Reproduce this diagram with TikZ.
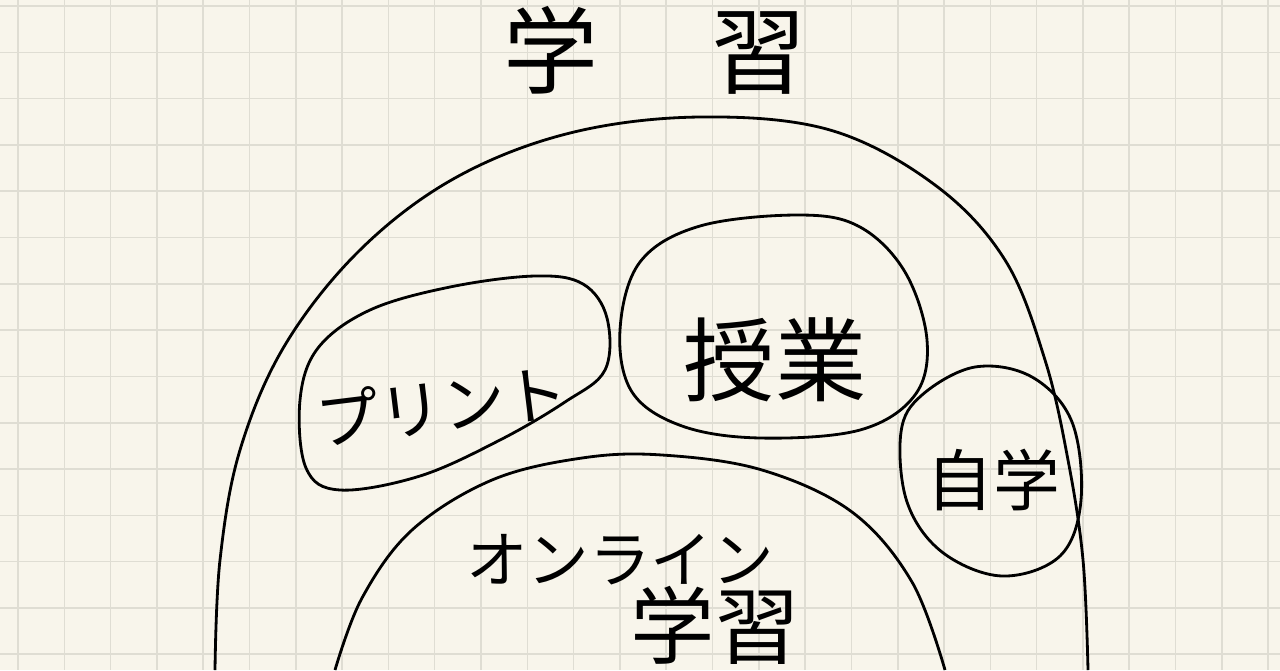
\documentclass[tikz,border=0pt]{standalone}
\usepackage{fontspec}
\newfontfamily\cjk{Noto Sans CJK JP}
\definecolor{papel}{HTML}{F8F5EB}
\definecolor{rejilla}{HTML}{DFDDD3}
\tikzset{
  trazo/.style={line width=1.6pt, black},
  texto/.style={font=\cjk, text=black, inner sep=0pt},
}

\begin{document}
\begin{tikzpicture}[x=0.02cm, y=-0.02cm]

	% Papel
	\fill[papel] (0,0) rectangle (1280,670);
	\useasboundingbox (0,0) rectangle (1280,670);
	\foreach \i in {0,...,27}
		\draw[rejilla, line width=0.9pt] ({18+46.3*\i},0) -- ({18+46.3*\i},670);
	\foreach \j in {0,...,14}
		\draw[rejilla, line width=0.9pt] (0,{6+46.3*\j}) -- (1280,{6+46.3*\j});

	% Aprendizaje
	\draw (655,50) node[texto, font=\cjk\fontsize{54}{54}\selectfont] (gakushu)
	{
		学\hspace{1.2em}習
	};

	\draw[trazo] plot[smooth, tension=0.6] coordinates {(215,670) (220,560) (240,450) (285,345) (360,250) (455,178) (570,133) (700,117) (830,130) (935,185) (1005,260) (1045,360) (1068,460) (1083,560) (1088,670)};

	% Impresos
	\draw (442,405) node[texto, rotate=7, font=\cjk\fontsize{36}{36}\selectfont] (purinto)
	{
		プリント
	};

	\draw[trazo] plot[smooth cycle, tension=0.6] coordinates {(300,400) (306,468) (340,490) (420,476) (500,440) (565,402) (605,370) (607,318) (583,284) (535,276) (450,287) (370,310) (318,348)};

	% Clase
	\draw (775,360) node[texto, font=\cjk\fontsize{52}{52}\selectfont] (jugyo)
	{
		授業
	};

	\draw[trazo] plot[smooth cycle, tension=0.6] coordinates {(620,330) (632,392) (682,426) (760,438) (860,430) (915,395) (927,340) (905,272) (860,227) (800,215) (700,226) (640,262)};

	% Autoestudio
	\draw (993,480) node[texto, font=\cjk\fontsize{38}{38}\selectfont] (jigaku)
	{
		自学
	};

	\draw[trazo] plot[smooth cycle, tension=0.6] coordinates {(901,432) (907,502) (942,552) (1002,576) (1060,556) (1081,500) (1072,422) (1032,377) (975,367) (922,395)};

	% En linea
	\draw (620,560) node[texto, font=\cjk\fontsize{35}{35}\selectfont] (onrain)
	{
		オンライン
	};
	\draw (715,625) node[texto, font=\cjk\fontsize{48}{48}\selectfont] (onrain2)
	{
		学習
	};

	\draw[trazo] plot[smooth, tension=0.6] coordinates {(335,670) (362,598) (412,530) (492,480) (582,458) (662,455) (762,470) (852,512) (912,582) (945,670)};

\end{tikzpicture}
\end{document}
